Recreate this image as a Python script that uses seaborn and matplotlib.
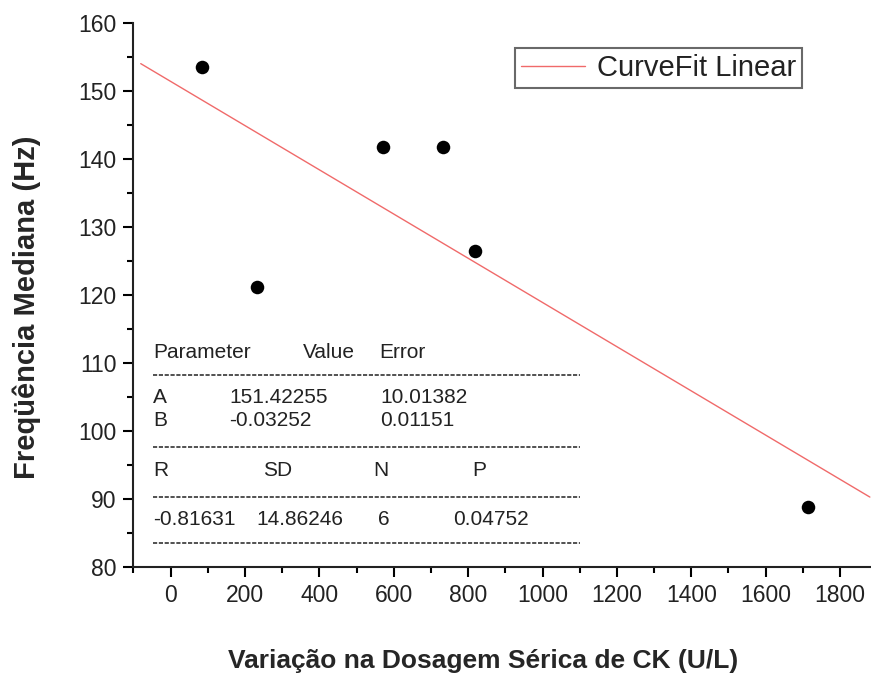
import numpy as np
import pandas as pd
import seaborn as sns
import matplotlib.pyplot as plt
from matplotlib.ticker import MultipleLocator

# dados
ck = [84, 232, 571, 733, 818, 1714]
freq = [153.6, 121.2, 141.8, 141.8, 126.4, 88.8]

# parametros do ajuste linear (tabela)
A = 151.42255
B = -0.03252
fit_x = [-80, 1880]

tab_head = ["Parameter", "Value", "Error"]
tab_A = ["A", "151.42255", "10.01382"]
tab_B = ["B", "-0.03252", "0.01151"]
stat_head = ["R", "SD", "N", "P"]
stat_vals = ["-0.81631", "14.86246", "6", "0.04752"]

sns.set_theme(style="ticks")
plt.rcParams["font.family"] = ["Liberation Sans", "DejaVu Sans"]

df = pd.DataFrame({"ck": ck, "freq": freq})
fit = pd.DataFrame({"x": fit_x, "y": [A + B * v for v in fit_x]})

fig = plt.figure(figsize=(8.71, 6.73), dpi=100)
ax = fig.add_axes([133.3 / 871, 1 - 567 / 673, 744 / 871, 544 / 673])

sns.lineplot(data=fit, x="x", y="y", ax=ax, color="#f06a6a", linewidth=1.0,
             label="CurveFit Linear")
sns.scatterplot(data=df, x="ck", y="freq", ax=ax, color="black", s=95,
                edgecolor="black", linewidth=0, zorder=3)

ax.set_xlim(-100, 1900)
ax.set_ylim(80, 160)
ax.xaxis.set_major_locator(MultipleLocator(200))
ax.xaxis.set_minor_locator(MultipleLocator(100))
ax.yaxis.set_major_locator(MultipleLocator(10))
ax.yaxis.set_minor_locator(MultipleLocator(5))
ax.set_xticks(range(0, 1801, 200))
ax.tick_params(which="major", direction="out", length=7, width=1.5, colors="black",
               labelsize=16.5, labelcolor="#222222", pad=5)
ax.tick_params(which="minor", direction="out", length=4, width=1.5, colors="black")
for s in ["left", "bottom"]:
    ax.spines[s].set_linewidth(1.5)
    ax.spines[s].set_color("#222222")
sns.despine(ax=ax)

ax.set_xlabel("Variação na Dosagem Sérica de CK (U/L)", fontsize=19, fontweight="bold")
ax.xaxis.set_label_coords(0.47, -0.15)
ax.set_ylabel("Freqüência Mediana (Hz)", fontsize=21, fontweight="bold", va="center")
ax.yaxis.set_label_coords(-0.143, 0.478)

leg = ax.legend(loc="upper left", bbox_to_anchor=(0.513, 0.954), fontsize=21,
                frameon=True, fancybox=False, edgecolor="#444444", handlelength=2.2,
                borderpad=0.2, handletextpad=0.4, borderaxespad=0)
leg.get_frame().set_linewidth(1.5)
for t in leg.get_texts():
    t.set_color("#222222")

# tabela de resultados
fs = 15
tc = "#222222"
def row(texts, xs, y):
    for t, x in zip(texts, xs):
        ax.text(x, y, t, transform=ax.transAxes, fontsize=fs, color=tc,
                ha="left", va="center")

def dash(y):
    ax.plot([0.0265, 0.60], [y, y], transform=ax.transAxes, color="#333333",
            linewidth=1.2, linestyle=(0, (2.5, 1.0)))

row(tab_head, [0.0265, 0.228, 0.330], 0.395)
dash(0.353)
row(tab_A, [0.0265, 0.1286, 0.3316], 0.311)
row(tab_B, [0.0265, 0.1286, 0.3316], 0.270)
dash(0.2206)
row(stat_head, [0.0265, 0.174, 0.322, 0.456], 0.178)
dash(0.1287)
row(stat_vals, [0.0265, 0.165, 0.329, 0.430], 0.0864)
dash(0.044)

fig.savefig("out.png", dpi=100)
